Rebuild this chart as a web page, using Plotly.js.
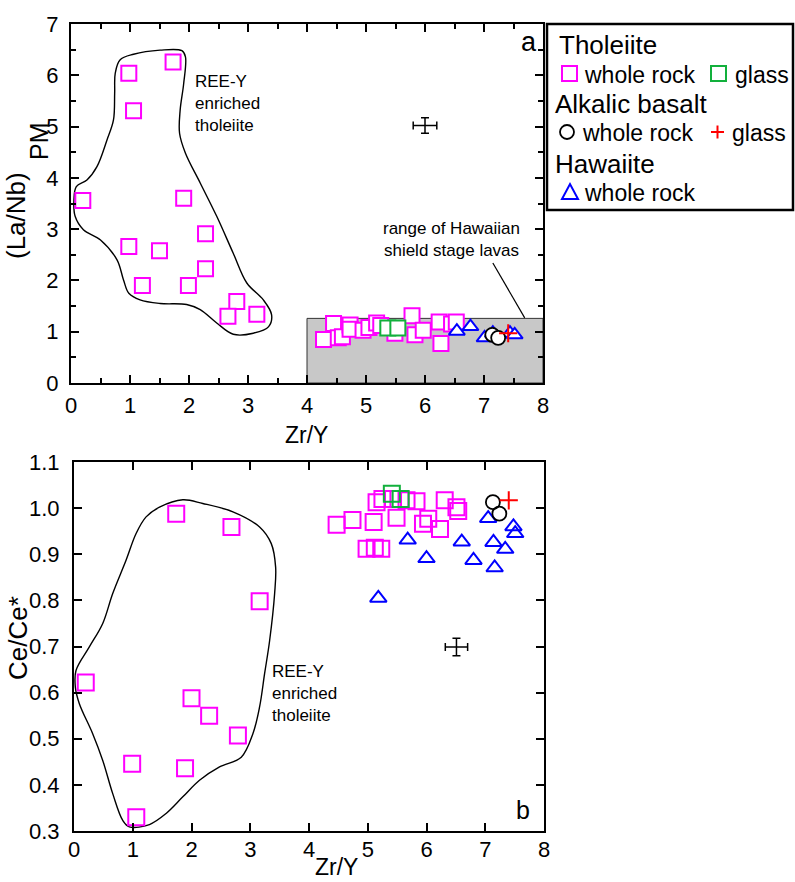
<!DOCTYPE html>
<html>
<head>
<meta charset="utf-8">
<script src="https://cdn.plot.ly/plotly-3.0.1.min.js"></script>
<style>html,body{margin:0;padding:0;background:#fff;}#chart{width:795px;height:882px;}</style>
</head>
<body>
<div id="chart"></div>
<script>
// ---------- Panel a: (La/Nb)PM vs Zr/Y ----------
const aThWrX = [0.98,1.73,1.06,0.20,1.91,2.28,0.98,1.50,2.28,1.21,1.99,2.81,2.66,3.15,
                4.45,4.28,4.53,4.60,4.73,4.73,4.95,5.05,5.18,5.25,5.49,5.78,5.83,5.97,6.24,6.27,6.45,6.53];
const aThWrY = [6.04,6.26,5.31,3.56,3.60,2.91,2.66,2.58,2.23,1.90,1.90,1.59,1.30,1.34,
                1.16,0.85,0.88,0.90,1.13,1.05,1.03,1.08,1.17,1.12,0.97,1.31,0.94,1.03,1.19,0.77,1.15,1.19];
const aThGlX = [5.37,5.54];
const aThGlY = [1.07,1.07];
const aAlkWrX = [7.14,7.24];
const aAlkWrY = [0.94,0.88];
const aAlkGlX = [7.41];
const aAlkGlY = [0.97];
const aHawX = [6.54,6.77,7.01,7.15,7.44,7.52];
const aHawY = [1.01,1.10,0.88,0.97,0.97,0.94];
const aErrX = [6.0], aErrY = [5.02], aErrDX = [0.2], aErrDY = [0.15];
// outline of REE-Y enriched tholeiite field (panel a)
const aFieldX = [1.51,1.88,1.94,1.91,1.85,1.84,1.94,2.19,2.47,2.75,2.98,3.26,3.40,3.35,3.09,2.75,2.47,2.19,1.96,1.51,1.17,0.98,0.89,0.78,0.50,0.21,0.07,0.05,0.09,0.27,0.44,0.61,0.72,0.74,0.75,0.83,1.06,1.51];
const aFieldY = [6.49,6.48,6.36,5.84,5.32,4.87,4.48,3.90,3.25,2.53,1.95,1.62,1.33,1.10,0.97,0.95,1.17,1.43,1.53,1.55,1.62,1.75,2.01,2.40,2.79,2.99,3.25,3.57,3.83,3.96,4.22,4.74,5.13,5.65,6.04,6.30,6.41,6.49];
// Hawaiian shield stage range box and its leader line
const shieldX = [4, 8], shieldY = [0, 1.26];
const leaderX = [7.15, 7.69], leaderY = [2.34, 1.27];

// ---------- Panel b: Ce/Ce* vs Zr/Y ----------
const bThWrX = [1.74,2.68,3.16,0.20,2.00,2.30,2.79,0.99,1.89,1.06,
                4.47,4.74,5.10,5.15,5.25,5.43,5.49,5.66,5.83,5.94,6.03,6.23,6.31,6.51,6.54,4.98,5.12,5.23];
const bThWrY = [0.988,0.959,0.798,0.622,0.588,0.550,0.507,0.446,0.436,0.330,
                0.964,0.974,0.970,1.013,1.020,1.020,0.979,1.017,1.015,0.966,0.977,0.955,1.017,1.002,0.994,0.912,0.914,0.912];
const bThGlX = [5.41,5.56];
const bThGlY = [1.031,1.020];
const bAlkWrX = [7.13,7.24];
const bAlkWrY = [1.013,0.988];
const bAlkGlX = [7.40];
const bAlkGlY = [1.017];
const bHawX = [5.18,5.68,6.00,6.60,6.80,7.05,7.14,7.16,7.34,7.48,7.51];
const bHawY = [0.805,0.931,0.891,0.927,0.887,0.978,0.926,0.871,0.911,0.960,0.945];
const bErrX = [6.51], bErrY = [0.699], bErrDX = [0.19], bErrDY = [0.019];
const bFieldX = [1.455,1.852,2.193,2.705,3.159,3.358,3.432,3.415,3.330,3.244,3.159,3.045,2.847,2.477,2.136,1.852,1.568,1.284,0.943,0.830,0.659,0.489,0.318,0.091,0.023,0.034,0.261,0.489,0.659,0.886,1.057,1.227,1.455];
const bFieldY = [1.002,1.018,1.010,0.992,0.959,0.923,0.872,0.815,0.713,0.641,0.569,0.511,0.460,0.439,0.410,0.374,0.338,0.314,0.309,0.323,0.381,0.453,0.511,0.576,0.612,0.648,0.699,0.750,0.815,0.887,0.945,0.981,1.002];

// ---------- labels ----------
const xTitle = 'Zr/Y';
const yTitleA = '(La/Nb)', yTitleASub = 'PM';
const yTitleB = 'Ce/Ce*';
const fieldLabel = 'REE-Y<br>enriched<br>tholeiite';
const shieldLabel = 'range of Hawaiian<br>shield stage lavas';

const MAG = '#ff00ff', GRN = '#12b03c', BLU = '#0000ff', RED = '#ff0000';
const FONT = 'Liberation Sans, Arial, sans-serif';
const W = 795, H = 882;
const px = v => v / W, py = v => 1 - v / H;

function pts(x, y, xa, ya, marker) {
  return {type:'scatter', mode:'markers', x:x, y:y, xaxis:xa, yaxis:ya, marker:marker,
          showlegend:false, hoverinfo:'skip', cliponaxis:false};
}
function field(x, y, xa, ya) {
  return {type:'scatter', mode:'lines', x:x, y:y, xaxis:xa, yaxis:ya,
          line:{color:'#000', width:1.4, shape:'spline', smoothing:1}, showlegend:false, hoverinfo:'skip'};
}
function err(x, y, dx, dy, xa, ya, w) {
  return {type:'scatter', mode:'markers', x:x, y:y, xaxis:xa, yaxis:ya, marker:{size:1, color:'#000'},
          error_x:{type:'data', array:dx, visible:true, color:'#000', thickness:1.5, width:w},
          error_y:{type:'data', array:dy, visible:true, color:'#000', thickness:1.5, width:w},
          showlegend:false, hoverinfo:'skip'};
}
const sqA = (c) => ({symbol:'square', size:15, color:'#fff', line:{color:c, width:2}});
const sqB = (c) => ({symbol:'square-open', size:16, color:c, line:{color:c, width:2}});

const traces = [
  field(aFieldX, aFieldY, 'x', 'y'),
  {type:'scatter', mode:'lines', x:leaderX, y:leaderY, xaxis:'x', yaxis:'y', line:{color:'#000', width:1.2}, showlegend:false, hoverinfo:'skip'},
  pts(aThWrX, aThWrY, 'x', 'y', sqA(MAG)),
  pts(aThGlX, aThGlY, 'x', 'y', sqA(GRN)),
  pts(aHawX, aHawY, 'x', 'y', {symbol:'triangle-up', size:14, color:'#fff', line:{color:BLU, width:2}}),
  pts(aAlkWrX, aAlkWrY, 'x', 'y', {symbol:'circle', size:14, color:'#fff', line:{color:'#000', width:1.8}}),
  pts(aAlkGlX, aAlkGlY, 'x', 'y', {symbol:'cross-thin-open', size:13, color:RED, line:{color:RED, width:2}}),
  err(aErrX, aErrY, aErrDX, aErrDY, 'x', 'y', 4),

  field(bFieldX, bFieldY, 'x2', 'y2'),
  pts(bThWrX, bThWrY, 'x2', 'y2', sqB(MAG)),
  pts(bThGlX, bThGlY, 'x2', 'y2', sqB(GRN)),
  pts(bHawX, bHawY, 'x2', 'y2', {symbol:'triangle-up-open', size:14.5, color:BLU, line:{color:BLU, width:2}}),
  pts(bAlkWrX, bAlkWrY, 'x2', 'y2', {symbol:'circle-open', size:14, color:'#000', line:{color:'#000', width:1.8}}),
  pts(bAlkGlX, bAlkGlY, 'x2', 'y2', {symbol:'cross-thin-open', size:13, color:RED, line:{color:RED, width:2}}),
  err(bErrX, bErrY, bErrDX, bErrDY, 'x2', 'y2', 4)
];

const tickFont = {family:FONT, size:22, color:'#000'};
function axis(extra) {
  return Object.assign({
    showline:true, linewidth:2, linecolor:'#000', mirror:'allticks',
    ticks:'inside', ticklen:8, tickwidth:2, tickcolor:'#000',
    showgrid:false, zeroline:false, tickfont:tickFont, fixedrange:true, automargin:false
  }, extra);
}
function ann(x, y, text, size, extra) {
  return Object.assign({xref:'paper', yref:'paper', x:px(x), y:py(y), text:text, showarrow:false,
    xanchor:'center', yanchor:'middle', font:{family:FONT, size:size, color:'#000'}}, extra || {});
}

const layout = {
  width:W, height:H, margin:{l:0, r:0, t:0, b:0},
  paper_bgcolor:'#fff', plot_bgcolor:'rgba(0,0,0,0)', showlegend:false,
  font:{family:FONT, color:'#000'},
  xaxis: axis({domain:[px(71), px(543)], range:[0,8], dtick:1, anchor:'y',
               minor:{ticks:'inside', dtick:0.5, ticklen:5, tickwidth:2, tickcolor:'#000'},
               ticklabelstandoff:2}),
  yaxis: axis({domain:[py(383), py(24)], range:[0,7], dtick:1, anchor:'x',
               minor:{ticks:'inside', dtick:0.5, ticklen:5, tickwidth:2, tickcolor:'#000'},
               ticklabelstandoff:6}),
  xaxis2: axis({domain:[px(74), px(544)], range:[0,8], dtick:1, anchor:'y2',
               ticklabelstandoff:-2}),
  yaxis2: axis({domain:[py(831), py(462)], range:[0.3,1.1], dtick:0.1, tickformat:'.1f', anchor:'x2',
               ticklabelstandoff:8}),
  shapes: [
    {type:'rect', xref:'x', yref:'y', x0:shieldX[0], x1:shieldX[1], y0:shieldY[0], y1:shieldY[1],
     fillcolor:'#c8c8c8', line:{color:'#333', width:1}, layer:'below'},
    // legend frame
    {type:'rect', xref:'paper', yref:'paper', x0:px(547), x1:px(793), y0:py(210), y1:py(24),
     line:{color:'#000', width:2.5}, fillcolor:'rgba(0,0,0,0)'},
    // legend keys
    {type:'rect', xref:'paper', yref:'paper', x0:px(562), x1:px(577), y0:py(81), y1:py(66), line:{color:MAG, width:2}},
    {type:'rect', xref:'paper', yref:'paper', x0:px(711), x1:px(726), y0:py(81), y1:py(66), line:{color:GRN, width:2}},
    {type:'circle', xref:'paper', yref:'paper', x0:px(560), x1:px(574), y0:py(139), y1:py(125), line:{color:'#000', width:1.8}},
    {type:'line', xref:'paper', yref:'paper', x0:px(711), x1:px(724), y0:py(132), y1:py(132), line:{color:RED, width:2}},
    {type:'line', xref:'paper', yref:'paper', x0:px(717.5), x1:px(717.5), y0:py(138.5), y1:py(125.5), line:{color:RED, width:2}},
    {type:'path', xref:'paper', yref:'paper',
     path:`M ${px(562)},${py(199)} L ${px(578)},${py(199)} L ${px(570)},${py(184)} Z`, line:{color:BLU, width:2}}
  ],
  annotations: [
    // axis titles
    ann(306, 435, xTitle, 23),
    ann(336, 882, xTitle, 23, {yanchor:'bottom'}),
    ann(16, 216, yTitleA, 26, {textangle:-90}),
    ann(39, 141, yTitleASub, 25, {textangle:-90}),
    ann(18, 638, yTitleB, 26, {textangle:-90}),
    // in-plot labels
    {xref:'x', yref:'y', x:2.06, y:5.45, text:fieldLabel, showarrow:false, xanchor:'left', yanchor:'middle', align:'left',
     font:{family:FONT, size:17, color:'#000'}},
    {xref:'x', yref:'y', x:6.45, y:2.80, text:shieldLabel, showarrow:false, xanchor:'center', yanchor:'middle', align:'center',
     font:{family:FONT, size:17, color:'#000'}},
    {xref:'x', yref:'y', x:7.76, y:6.64, text:'a', showarrow:false, xanchor:'center', yanchor:'middle',
     font:{family:FONT, size:27, color:'#000'}},
    {xref:'x2', yref:'y2', x:3.34, y:0.598, text:fieldLabel, showarrow:false, xanchor:'left', yanchor:'middle', align:'left',
     font:{family:FONT, size:17, color:'#000'}},
    {xref:'x2', yref:'y2', x:7.64, y:0.345, text:'b', showarrow:false, xanchor:'center', yanchor:'middle',
     font:{family:FONT, size:25, color:'#000'}},
    // legend text
    ann(557, 45, 'Tholeiite', 26, {xanchor:'left'}),
    ann(582, 75, 'whole rock', 23, {xanchor:'left'}),
    ann(733, 75, 'glass', 23, {xanchor:'left'}),
    ann(553, 104, 'Alkalic basalt', 26, {xanchor:'left'}),
    ann(580, 133, 'whole rock', 23, {xanchor:'left'}),
    ann(730, 133, 'glass', 23, {xanchor:'left'}),
    ann(553, 164, 'Hawaiite', 26, {xanchor:'left'}),
    ann(582, 193, 'whole rock', 23, {xanchor:'left'})
  ]
};

Plotly.newPlot('chart', traces, layout, {staticPlot:true, displayModeBar:false});
</script>
</body>
</html>
